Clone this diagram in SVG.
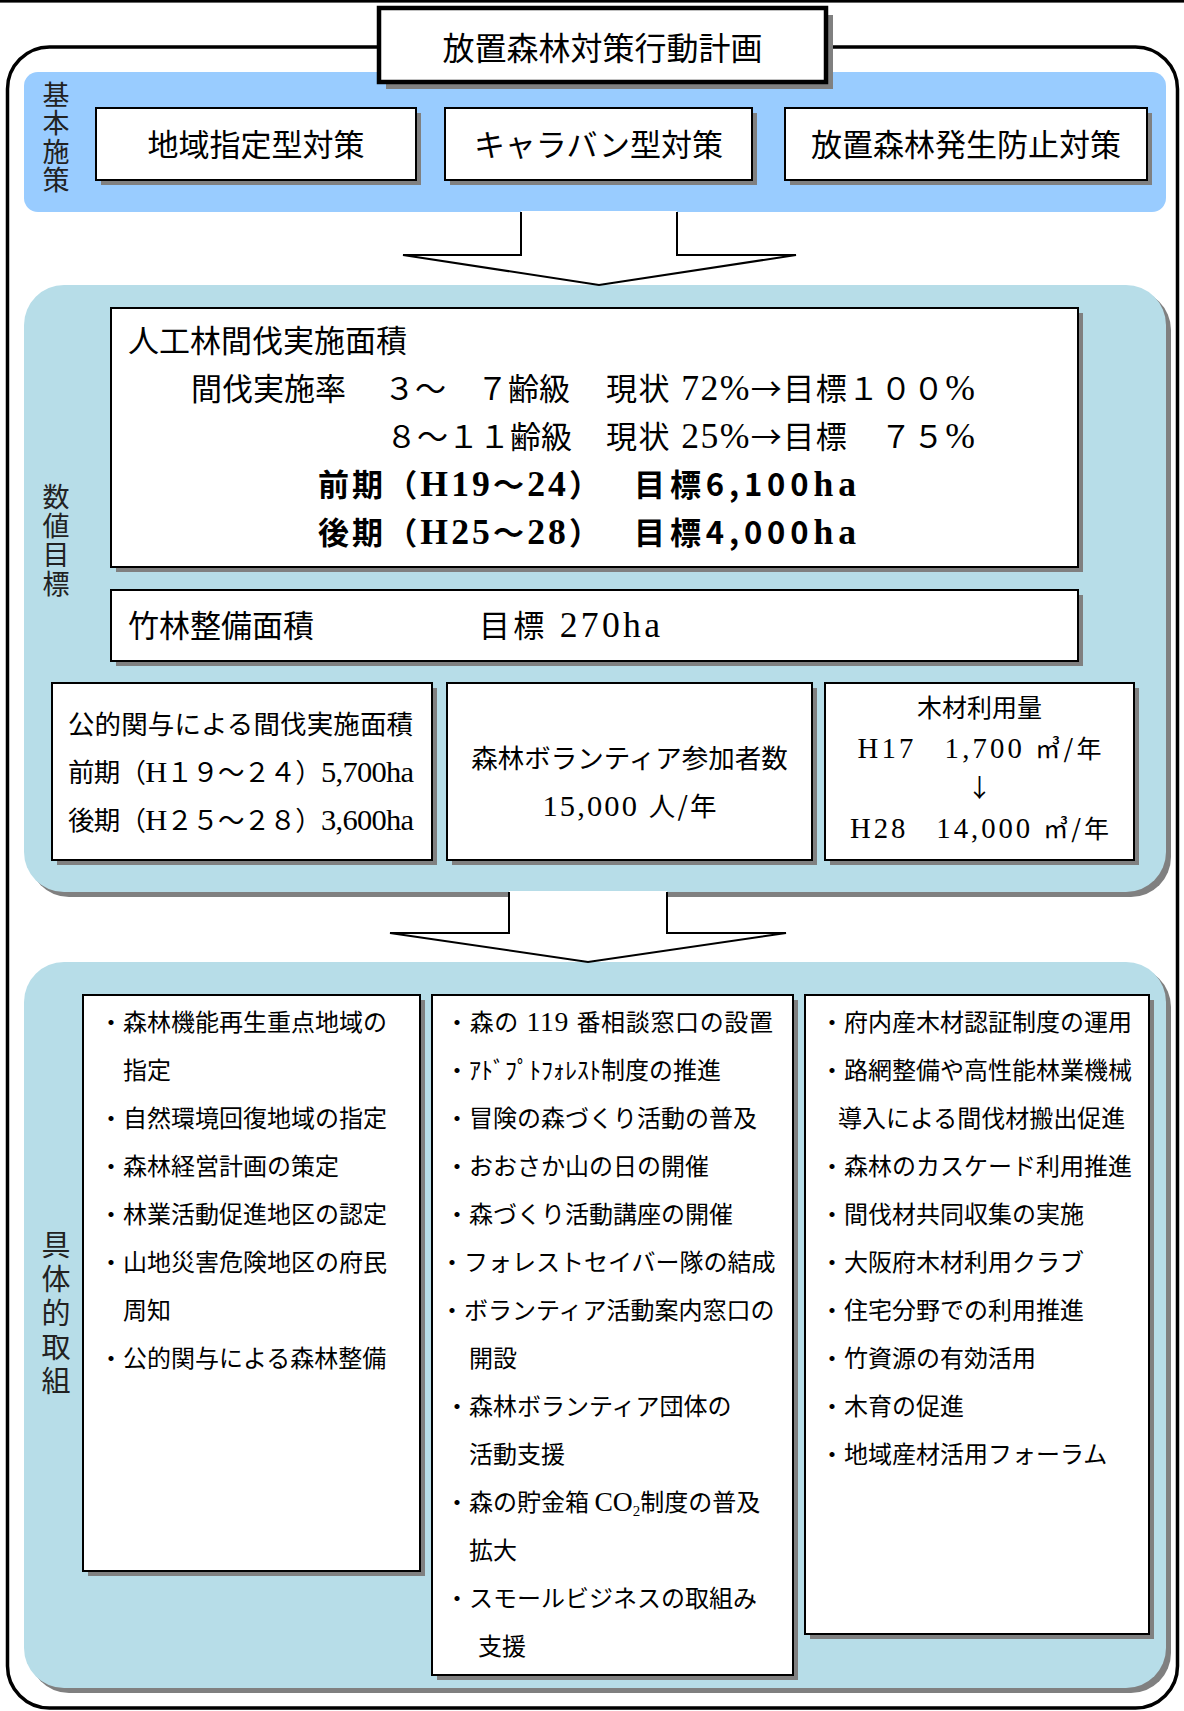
<svg xmlns="http://www.w3.org/2000/svg" width="1184" height="1711" viewBox="0 0 1184 1711">
<style>
text{font-family:"Noto Sans CJK JP","Noto Sans CJK SC",sans-serif;fill:#000}
.sf{font-family:"Liberation Serif","Noto Sans CJK JP",serif;font-size:1.15em}
.box{fill:#fff;stroke:#000;stroke-width:2}
.shd{fill:#808080}
.lbl{fill:#222;writing-mode:vertical-rl}
.t31{font-size:31px}
.t26{font-size:26.5px}
.t25{font-size:25px}
.it{font-size:24px}
.mid{text-anchor:middle}
.arrow{fill:#fff;stroke:none}
.arrowline{fill:none;stroke:#000;stroke-width:2;stroke-linejoin:miter}
</style>

<rect x="0" y="0" width="1184" height="2.6" fill="#000"/>

<g id="frame">
<rect x="7.5" y="47" width="1170" height="1661" rx="42" ry="42" fill="#fff" stroke="#000" stroke-width="3.5"/>
</g>

<g id="band-kihon">
<rect x="24" y="72" width="1142" height="140" rx="14" ry="14" fill="#99CCFF"/>
<text class="lbl" x="56" y="81" font-size="27" letter-spacing="1.5">基本施策</text>
</g>

<g id="title">
<rect x="386" y="15" width="447" height="74" class="shd"/>
<rect x="379" y="8" width="447" height="74" fill="#fff" stroke="#000" stroke-width="4.5"/>
<text x="602.5" y="60" font-size="32" class="mid">放置森林対策行動計画</text>
</g>

<g id="node-chiiki">
<rect x="101" y="113" width="320" height="72" class="shd"/>
<rect x="96" y="108" width="320" height="72" class="box"/>
<text x="256" y="156" class="t31 mid">地域指定型対策</text>
</g>
<g id="node-caravan">
<rect x="450" y="113" width="307" height="72" class="shd"/>
<rect x="445" y="108" width="307" height="72" class="box"/>
<text x="598.5" y="156" class="t31 mid">キャラバン型対策</text>
</g>
<g id="node-boushi">
<rect x="790" y="113" width="362" height="72" class="shd"/>
<rect x="785" y="108" width="362" height="72" class="box"/>
<text x="966" y="156" class="t31 mid">放置森林発生防止対策</text>
</g>

<g id="panel-suuchi">
<rect x="29" y="290" width="1142" height="607" rx="40" ry="40" class="shd"/>
<rect x="24" y="285" width="1142" height="607" rx="40" ry="40" fill="#B7DDE8"/>
<text class="lbl" x="56" y="483" font-size="27" letter-spacing="2">数値目標</text>
</g>

<g id="panel-gutai">
<rect x="29" y="967" width="1142" height="726" rx="40" ry="40" class="shd"/>
<rect x="24" y="962" width="1142" height="726" rx="40" ry="40" fill="#B7DDE8"/>
<text class="lbl" x="56" y="1230" font-size="29" letter-spacing="5">具体的取組</text>
</g>

<g id="connectors">
<polygon class="arrow" points="521,211 521,255 403,255 599,285 796,255 677,255 677,211"/>
<polyline class="arrowline" points="521,212 521,255 403,255 599,285 796,255 677,255 677,212"/>
<polygon class="arrow" points="509,891 509,933 390,933 588,962 786,933 667,933 667,891"/>
<polyline class="arrowline" points="509,892 509,933 390,933 588,962 786,933 667,933 667,892"/>
</g>

<g id="node-kanbatsu">
<rect x="116" y="313" width="967" height="259" class="shd"/>
<rect x="111" y="308" width="967" height="259" class="box"/>
<text x="128" y="352" class="t31">人工林間伐実施面積</text>
<text x="191" y="400" class="t31">間伐実施率</text>
<text x="384" y="400" class="t31">３～　７齢級</text>
<text x="606" y="400" class="t31" textLength="369" lengthAdjust="spacing">現状<tspan class="sf"> 72%</tspan>→目標１００<tspan class="sf">%</tspan></text>
<text x="386" y="448" class="t31">８～１１齢級</text>
<text x="606" y="448" class="t31" textLength="369" lengthAdjust="spacing">現状<tspan class="sf"> 25%</tspan>→目標　７５<tspan class="sf">%</tspan></text>
<text x="318" y="496" class="t31" font-weight="bold" textLength="282" lengthAdjust="spacing">前期（<tspan class="sf">H19</tspan>～<tspan class="sf">24</tspan>）</text>
<text x="634" y="496" class="t31" font-weight="bold" textLength="222" lengthAdjust="spacing">目標6,100<tspan class="sf">ha</tspan></text>
<text x="318" y="544" class="t31" font-weight="bold" textLength="282" lengthAdjust="spacing">後期（<tspan class="sf">H25</tspan>～<tspan class="sf">28</tspan>）</text>
<text x="634" y="544" class="t31" font-weight="bold" textLength="222" lengthAdjust="spacing">目標4,000<tspan class="sf">ha</tspan></text>
</g>

<g id="node-chikurin">
<rect x="116" y="595" width="967" height="71" class="shd"/>
<rect x="111" y="590" width="967" height="71" class="box"/>
<text x="128" y="637" class="t31">竹林整備面積</text>
<text x="479" y="637" class="t31" textLength="181" lengthAdjust="spacing">目標<tspan class="sf"> 270ha</tspan></text>
</g>

<g id="node-kouteki">
<rect x="57" y="688" width="380" height="177" class="shd"/>
<rect x="52" y="683" width="380" height="177" class="box"/>
<text x="68" y="734" class="t26" textLength="345" lengthAdjust="spacing">公的関与による間伐実施面積</text>
<text x="68" y="782" class="t26" textLength="346" lengthAdjust="spacing">前期（<tspan class="sf">H</tspan>１９～２４）<tspan class="sf">5,700ha</tspan></text>
<text x="68" y="830" class="t26" textLength="346" lengthAdjust="spacing">後期（<tspan class="sf">H</tspan>２５～２８）<tspan class="sf">3,600ha</tspan></text>
</g>

<g id="node-volunteer">
<rect x="452" y="688" width="365" height="177" class="shd"/>
<rect x="447" y="683" width="365" height="177" class="box"/>
<text x="629.5" y="768" class="t26 mid">森林ボランティア参加者数</text>
<text x="629.5" y="816" class="t26 mid" textLength="174" lengthAdjust="spacing"><tspan class="sf">15,000 </tspan>人/年</text>
</g>

<g id="node-mokuzai">
<rect x="830" y="688" width="309" height="177" class="shd"/>
<rect x="825" y="683" width="309" height="177" class="box"/>
<text x="979.5" y="717" class="t25 mid">木材利用量</text>
<text x="979.5" y="758" class="t25 mid" textLength="244" lengthAdjust="spacing"><tspan class="sf">H17</tspan>　<tspan class="sf">1,700 </tspan>㎥/年</text>
<text x="979.5" y="797" class="t25 mid">↓</text>
<text x="979.5" y="838" class="t25 mid" textLength="259" lengthAdjust="spacing"><tspan class="sf">H28</tspan>　<tspan class="sf">14,000 </tspan>㎥/年</text>
</g>

<g id="node-col1">
<rect x="88" y="1000" width="337" height="576" class="shd"/>
<rect x="83" y="995" width="337" height="576" class="box"/>
<text class="it">
<tspan x="99" y="1031">・森林機能再生重点地域の</tspan>
<tspan x="123" y="1079">指定</tspan>
<tspan x="99" y="1127">・自然環境回復地域の指定</tspan>
<tspan x="99" y="1175">・森林経営計画の策定</tspan>
<tspan x="99" y="1223">・林業活動促進地区の認定</tspan>
<tspan x="99" y="1271">・山地災害危険地区の府民</tspan>
<tspan x="123" y="1319">周知</tspan>
<tspan x="99" y="1367">・公的関与による森林整備</tspan>
</text>
</g>

<g id="node-col2">
<rect x="437" y="1000" width="361" height="680" class="shd"/>
<rect x="432" y="995" width="361" height="680" class="box"/>
<text x="445" y="1031" class="it" textLength="328" lengthAdjust="spacing">・森の<tspan class="sf"> 119 </tspan>番相談窓口の設置</text>
<text class="it">
<tspan x="445" y="1079">・ｱﾄﾞﾌﾟﾄﾌｫﾚｽﾄ制度の推進</tspan>
<tspan x="445" y="1127">・冒険の森づくり活動の普及</tspan>
<tspan x="445" y="1175">・おおさか山の日の開催</tspan>
<tspan x="445" y="1223">・森づくり活動講座の開催</tspan>
<tspan x="440" y="1271">・フォレストセイバー隊の結成</tspan>
<tspan x="440" y="1319">・ボランティア活動案内窓口の</tspan>
<tspan x="469" y="1367">開設</tspan>
<tspan x="445" y="1415">・森林ボランティア団体の</tspan>
<tspan x="469" y="1463">活動支援</tspan>
</text>
<text x="445" y="1511" class="it">・森の貯金箱 <tspan class="sf">CO</tspan><tspan class="sf" style="font-size:15px" dy="5">2</tspan><tspan dy="-5">制度の普及</tspan></text>
<text class="it">
<tspan x="469" y="1559">拡大</tspan>
<tspan x="445" y="1607">・スモールビジネスの取組み</tspan>
<tspan x="478" y="1655">支援</tspan>
</text>
</g>

<g id="node-col3">
<rect x="810" y="1000" width="344" height="639" class="shd"/>
<rect x="805" y="995" width="344" height="639" class="box"/>
<text class="it">
<tspan x="820" y="1031">・府内産木材認証制度の運用</tspan>
<tspan x="820" y="1079">・路網整備や高性能林業機械</tspan>
<tspan x="838" y="1127">導入による間伐材搬出促進</tspan>
<tspan x="820" y="1175">・森林のカスケード利用推進</tspan>
<tspan x="820" y="1223">・間伐材共同収集の実施</tspan>
<tspan x="820" y="1271">・大阪府木材利用クラブ</tspan>
<tspan x="820" y="1319">・住宅分野での利用推進</tspan>
<tspan x="820" y="1367">・竹資源の有効活用</tspan>
<tspan x="820" y="1415">・木育の促進</tspan>
<tspan x="820" y="1463">・地域産材活用フォーラム</tspan>
</text>
</g>
</svg>
